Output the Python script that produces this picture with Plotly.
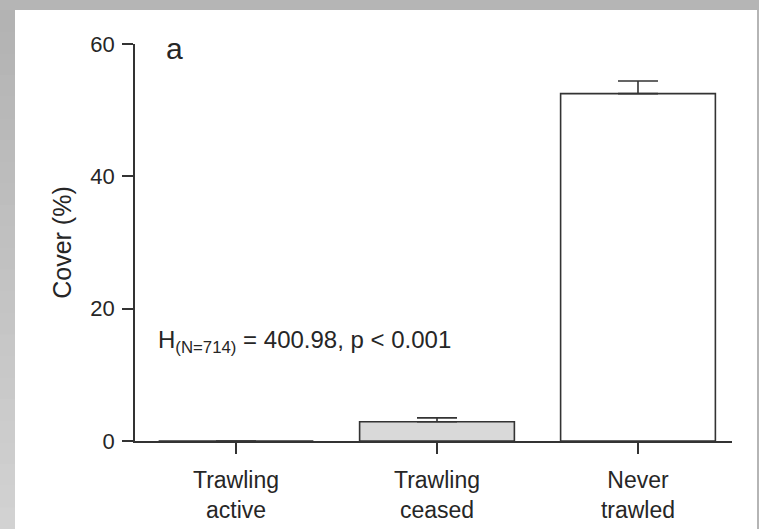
import plotly.graph_objects as go

# Seagrass cover by trawling status (mean + SE)
categories = ["Trawling active", "Trawling ceased", "Never trawled"]
cover_mean = [0.0, 2.9, 52.5]
cover_se = [0.0, 0.6, 1.9]
bar_colors = ["#ffffff", "#d9d9d9", "#ffffff"]
y_ticks = [0, 20, 40, 60]

W, H = 759, 529
L, R, T, B = 135, 27, 44, 88
plot_w = W - L - R
plot_h = H - T - B


def px_x(px):
    return (px - L) / plot_w


def px_y(py):
    return (H - B - py) / plot_h


tick_text = [c.replace(" ", "<br>", 1) for c in categories]
ink = "#262626"
font = "Liberation Sans, Arial, Helvetica, sans-serif"

fig = go.Figure()
fig.add_trace(go.Bar(
    x=categories,
    y=cover_mean,
    width=0.77,
    marker=dict(color=bar_colors, line=dict(color="#333333", width=1.6)),
    error_y=dict(type="data", symmetric=False, array=cover_se,
                 arrayminus=[0] * len(cover_se), color="#333333",
                 thickness=1.6, width=20, visible=True),
    showlegend=False,
))

# grey frame around the white panel
shapes = [dict(type="rect", xref="paper", yref="paper",
               x0=px_x(15), x1=px_x(757), y0=px_y(10), y1=px_y(H + 2),
               fillcolor="white", line=dict(width=0), layer="below")]
n_strip = 24
for i in range(n_strip):
    y0p = 10 + (H - 10) * i / n_strip
    y1p = 10 + (H - 10) * (i + 1) / n_strip
    g = int(0xb3 + (0xd2 - 0xb3) * i / (n_strip - 1))
    shapes.append(dict(type="rect", xref="paper", yref="paper",
                       x0=px_x(-2), x1=px_x(15), y0=px_y(y0p), y1=px_y(y1p + 1),
                       fillcolor=f"rgb({g},{g},{g})", line=dict(width=0),
                       layer="below"))

fig.update_layout(
    width=W, height=H,
    margin=dict(l=L, r=R, t=T, b=B, pad=0, autoexpand=False),
    paper_bgcolor="#b5b5b5",
    plot_bgcolor="rgba(0,0,0,0)",
    font=dict(family=font, color=ink, size=22),
    shapes=shapes,
    bargap=0.23,
    xaxis=dict(
        range=[-0.5025, 2.4677], automargin=False,
        tickmode="array", tickvals=categories, ticktext=tick_text,
        showline=True, linecolor="#333333", linewidth=1.6,
        ticks="outside", ticklen=11, tickwidth=1.6, tickcolor="#333333",
        tickfont=dict(size=23, color=ink), ticklabelstandoff=7,
        showgrid=False, zeroline=False, fixedrange=True,
    ),
    yaxis=dict(
        range=[0, 60], tickvals=y_ticks, automargin=False,
        showline=True, linecolor="#333333", linewidth=1.6,
        ticks="outside", ticklen=11, tickwidth=1.6, tickcolor="#333333",
        tickfont=dict(size=22, color=ink), ticklabelstandoff=3,
        title=dict(text="Cover (%)", font=dict(size=25, color=ink), standoff=12),
        showgrid=False, zeroline=False,
    ),
    annotations=[
        dict(text="a", xref="paper", yref="paper", x=px_x(164), y=px_y(49),
             xanchor="left", yanchor="middle", showarrow=False,
             font=dict(size=30, color=ink)),
        dict(text="H<sub>(N=714)</sub> = 400.98, p < 0.001",
             xref="paper", yref="y", x=px_x(156), y=15.1,
             xanchor="left", yanchor="middle", showarrow=False,
             font=dict(size=24, color=ink)),
    ],
)

fig.write_html("out.html")
